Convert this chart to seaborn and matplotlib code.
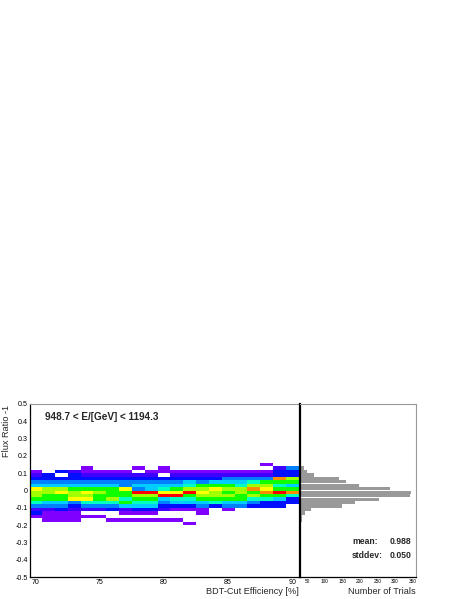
import numpy as np
import pandas as pd
import matplotlib
matplotlib.use('Agg')
import matplotlib.pyplot as plt
import seaborn as sns
from matplotlib.colors import ListedColormap
from matplotlib.ticker import MultipleLocator, FuncFormatter

sns.set_style('white')
plt.rcParams['font.family'] = ['Liberation Sans', 'DejaVu Sans']

# BDT-cut efficiency columns [%]
efficiency = [70, 71, 72, 73, 74, 75, 76, 77, 78, 79, 80,
              81, 82, 83, 84, 85, 86, 87, 88, 89, 90]
# flux ratio - 1, bin centres (top -> bottom)
ratio = [0.15, 0.13, 0.11, 0.09, 0.07, 0.05, 0.03, 0.01, -0.01,
         -0.03, -0.05, -0.07, -0.09, -0.11, -0.13, -0.15, -0.17, -0.19]

# trials per cell, one list per efficiency column (same order as ratio)
counts = [
    [0, 0, 1, 2, 3, 4, 5, 9, 8, 8, 7, 6, 4, 2, 3, 1, 0, 0],
    [0, 0, 0, 3, 3, 4, 5, 8, 8, 7, 7, 5, 4, 2, 1, 1, 1, 0],
    [0, 0, 3, 0, 3, 4, 5, 8, 9, 7, 7, 5, 4, 3, 1, 1, 1, 0],
    [0, 0, 2, 3, 3, 4, 5, 7, 8, 8, 9, 4, 3, 2, 1, 1, 1, 0],
    [0, 1, 1, 2, 3, 4, 5, 7, 9, 8, 9, 6, 4, 2, 0, 1, 0, 0],
    [0, 0, 1, 2, 3, 4, 5, 7, 8, 7, 7, 6, 4, 2, 0, 1, 0, 0],
    [0, 0, 1, 2, 3, 4, 5, 7, 7, 7, 8, 6, 4, 3, 0, 0, 1, 0],
    [0, 0, 1, 2, 3, 4, 4, 9, 7, 7, 6, 7, 5, 2, 1, 0, 1, 0],
    [0, 1, 0, 2, 3, 4, 5, 4, 11, 8, 7, 6, 5, 3, 1, 0, 1, 0],
    [0, 0, 1, 2, 3, 4, 5, 5, 11, 8, 7, 6, 5, 3, 1, 0, 1, 0],
    [0, 1, 1, 0, 3, 4, 5, 6, 9, 11, 5, 4, 3, 2, 0, 0, 1, 0],
    [0, 0, 1, 2, 3, 4, 5, 7, 9, 11, 6, 5, 3, 1, 0, 0, 1, 0],
    [0, 0, 1, 2, 3, 5, 6, 8, 11, 7, 6, 5, 3, 1, 0, 0, 0, 1],
    [0, 0, 1, 2, 3, 4, 7, 8, 9, 8, 7, 5, 4, 1, 1, 0, 0, 0],
    [0, 0, 1, 2, 3, 5, 7, 9, 8, 8, 7, 6, 3, 0, 0, 0, 0, 0],
    [0, 0, 1, 2, 4, 5, 7, 8, 7, 8, 7, 5, 4, 1, 0, 0, 0, 0],
    [0, 0, 1, 2, 4, 5, 6, 8, 8, 7, 7, 5, 4, 0, 0, 0, 0, 0],
    [0, 0, 1, 2, 4, 6, 8, 10, 7, 8, 6, 4, 3, 0, 0, 0, 0, 0],
    [1, 0, 1, 2, 4, 7, 8, 9, 10, 7, 6, 3, 3, 0, 0, 0, 0, 0],
    [0, 2, 3, 3, 10, 7, 6, 7, 11, 7, 5, 3, 3, 0, 0, 0, 0, 0],
    [0, 4, 3, 3, 8, 7, 5, 7, 10, 6, 3, 3, 0, 0, 0, 0, 0, 0],
]

# projection onto the flux-ratio axis
trials = [33, 41, 50, 69, 140, 160, 197, 286, 345, 343,
          255, 186, 150, 60, 42, 36, 34, 32]

mean_txt = '0.988'
std_txt = '0.050'

# long-form table for the 2D histogram
rows = []
for e, col in zip(efficiency, counts):
    for r, c in zip(ratio, col):
        if c > 0:
            rows.append((e, r, c))
df = pd.DataFrame(rows, columns=['eff', 'ratio', 'n'])
proj = pd.DataFrame({'ratio': ratio, 'trials': trials})

palette = ['#7f00ff', '#3f00ff', '#0010ff', '#0080ff', '#00ccff',
           '#00ffc0', '#10ff00', '#a0ff00', '#ffff00', '#ff8c00', '#ff0000']
cmap = ListedColormap(palette)

xedges = list(np.arange(69.5, 91.0, 1.0))
yedges = list(np.linspace(-0.5, 0.5, 51))

fig = plt.figure(figsize=(4.63, 5.99), dpi=100)
ax = fig.add_axes([30 / 463, 1 - 577 / 599, 270 / 463, 173 / 599])
ax2 = fig.add_axes([300 / 463, 1 - 577 / 599, 116 / 463, 173 / 599])

sns.histplot(data=df, x='eff', y='ratio', weights='n',
             bins=(xedges, yedges), cmap=cmap,
             vmin=0.5, vmax=11.5, ax=ax)

ax.set_xlim(69.55, 90.6)
ax.set_ylim(-0.5, 0.5)
ax.set_xlabel('')
ax.set_ylabel('')
ax.xaxis.set_major_locator(MultipleLocator(5))
ax.xaxis.set_minor_locator(MultipleLocator(1))
ax.yaxis.set_major_locator(MultipleLocator(0.1))
ax.yaxis.set_minor_locator(MultipleLocator(0.02))
ax.yaxis.set_major_formatter(
    FuncFormatter(lambda v, p: f'{round(v, 2):g}' if abs(v) > 1e-9 else '0'))
ax.tick_params(axis='both', which='both', direction='in', labelsize=5.1,
               colors='black', top=False, right=False)
ax.tick_params(axis='x', which='major', length=3.6, pad=1.5)
ax.tick_params(axis='x', which='minor', length=1.7)
ax.tick_params(axis='y', which='major', length=4.5, pad=1.5)
ax.tick_params(axis='y', which='minor', length=2.2)
for s in ['left', 'bottom']:
    ax.spines[s].set_color('black')
    ax.spines[s].set_linewidth(0.9)
ax.spines['top'].set_color('#999999')
ax.spines['top'].set_linewidth(0.8)
ax.spines['right'].set_visible(False)

ax.text(0.055, 0.925, '948.7 < E/[GeV] < 1194.3', transform=ax.transAxes,
        fontsize=7.2, fontweight='bold', ha='left', va='center')

# y projection
sns.histplot(data=proj, y='ratio', weights='trials', bins=yedges,
             color='#999999', alpha=1, edgecolor='none', shrink=0.95, ax=ax2)
ax2.set_xlim(29, 360)
ax2.set_ylim(-0.5, 0.5)
ax2.set_xlabel('')
ax2.set_ylabel('')
ax2.xaxis.set_major_locator(MultipleLocator(50))
ax2.xaxis.set_minor_locator(MultipleLocator(10))
ax2.yaxis.set_major_locator(MultipleLocator(0.1))
ax2.yaxis.set_minor_locator(MultipleLocator(0.02))
ax2.tick_params(axis='both', which='both', direction='in', colors='black')
ax2.tick_params(axis='x', which='major', length=2.6, labelsize=3.4, pad=1.5)
ax2.tick_params(axis='x', which='minor', length=1.3)
ax2.tick_params(axis='y', which='major', length=3.5, labelleft=False)
ax2.tick_params(axis='y', which='minor', length=1.7)
ax2.spines['left'].set_color('black')
ax2.spines['left'].set_linewidth(1.6)
ax2.spines['bottom'].set_color('black')
ax2.spines['bottom'].set_linewidth(0.9)
for s in ['top', 'right']:
    ax2.spines[s].set_color('#999999')
    ax2.spines[s].set_linewidth(0.8)

# statistics box text (figure pixels -> fractions)
fig.text(352 / 463, 1 - 542 / 599, 'mean:', fontsize=6.2, fontweight='bold',
         ha='left', va='center')
fig.text(411 / 463, 1 - 542 / 599, mean_txt, fontsize=6.2, fontweight='bold',
         ha='right', va='center')
fig.text(352 / 463, 1 - 555 / 599, 'stddev:', fontsize=6.2, fontweight='bold',
         ha='left', va='center')
fig.text(411 / 463, 1 - 555 / 599, std_txt, fontsize=6.2, fontweight='bold',
         ha='right', va='center')

fig.text(7 / 463, 1 - 405 / 599, 'Flux Ratio -1', rotation=90,
         fontsize=6.6, ha='center', va='top')
fig.text(299 / 463, 1 - 592 / 599, 'BDT-Cut Efficiency [%]',
         fontsize=6.6, ha='right', va='center')
fig.text(416 / 463, 1 - 592 / 599, 'Number of Trials',
         fontsize=6.6, ha='right', va='center')

fig.savefig('out.png', dpi=100)
